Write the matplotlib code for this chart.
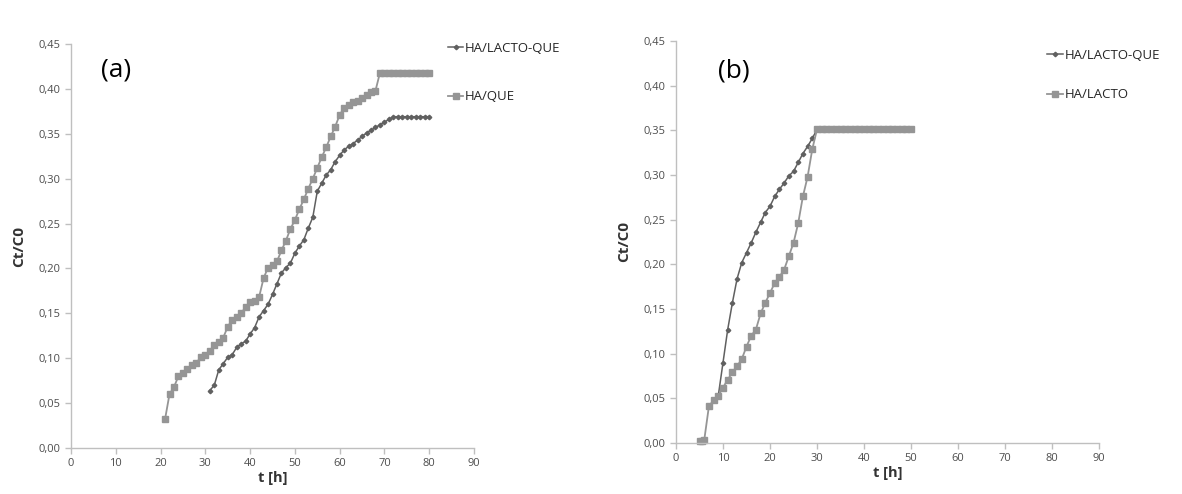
import matplotlib
matplotlib.use("Agg")
import matplotlib.pyplot as plt
from matplotlib.ticker import FuncFormatter, MultipleLocator

plt.rcParams['font.family'] = ['Open Sans', 'DejaVu Sans']

# ---------------- Panel (a) data ----------------
a_lq_t = [31, 32, 33, 34, 35, 36, 37, 38, 39, 40, 41, 42, 43, 44, 45, 46, 47, 48, 49, 50,
          51, 52, 53, 54, 55, 56, 57, 58, 59, 60, 61, 62, 63, 64, 65, 66, 67, 68, 69, 70,
          71, 72, 73, 74, 75, 76, 77, 78, 79, 80]
a_lq_y = [0.064, 0.070, 0.087, 0.094, 0.101, 0.104, 0.112, 0.116, 0.119, 0.127, 0.134, 0.146,
          0.153, 0.160, 0.171, 0.183, 0.195, 0.201, 0.206, 0.217, 0.225, 0.232, 0.245, 0.257,
          0.286, 0.295, 0.304, 0.310, 0.319, 0.326, 0.332, 0.336, 0.339, 0.343, 0.347, 0.351,
          0.354, 0.357, 0.360, 0.363, 0.366, 0.369, 0.369, 0.369, 0.369, 0.369, 0.369, 0.369,
          0.369, 0.369]

a_q_t = [21, 22, 23, 24, 25, 26, 27, 28, 29, 30, 31, 32, 33, 34, 35, 36, 37, 38, 39, 40,
         41, 42, 43, 44, 45, 46, 47, 48, 49, 50, 51, 52, 53, 54, 55, 56, 57, 58, 59, 60,
         61, 62, 63, 64, 65, 66, 67, 68, 69, 70, 71, 72, 73, 74, 75, 76, 77, 78, 79, 80]
a_q_y = [0.032, 0.060, 0.068, 0.080, 0.084, 0.088, 0.092, 0.095, 0.101, 0.104, 0.108, 0.115,
         0.118, 0.123, 0.135, 0.143, 0.146, 0.150, 0.157, 0.163, 0.164, 0.168, 0.189, 0.201,
         0.204, 0.208, 0.220, 0.231, 0.244, 0.254, 0.266, 0.277, 0.289, 0.300, 0.312, 0.324,
         0.335, 0.347, 0.358, 0.371, 0.379, 0.382, 0.385, 0.387, 0.390, 0.393, 0.396, 0.398,
         0.418, 0.418, 0.418, 0.418, 0.418, 0.418, 0.418, 0.418, 0.418, 0.418, 0.418, 0.418]

# ---------------- Panel (b) data ----------------
b_lq_t = [9, 10, 11, 12, 13, 14, 15, 16, 17, 18, 19, 20, 21, 22, 23, 24, 25, 26, 27, 28, 29,
          30, 31, 32, 33, 34, 35, 36, 37, 38, 39, 40, 41, 42, 43, 44, 45, 46, 47, 48, 49, 50]
b_lq_y = [0.053, 0.090, 0.127, 0.157, 0.184, 0.202, 0.213, 0.224, 0.236, 0.247, 0.258, 0.265,
          0.276, 0.284, 0.291, 0.299, 0.304, 0.314, 0.324, 0.332, 0.341,
          0.351, 0.351, 0.351, 0.351, 0.351, 0.351, 0.351, 0.351, 0.351, 0.351, 0.351, 0.351,
          0.351, 0.351, 0.351, 0.351, 0.351, 0.351, 0.351, 0.351, 0.351]

b_l_t = [5, 5.5, 6, 7, 8, 9, 10, 11, 12, 13, 14, 15, 16, 17, 18, 19, 20, 21, 22, 23, 24, 25,
         26, 27, 28, 29, 30, 31, 32, 33, 34, 35, 36, 37, 38, 39, 40, 41, 42, 43, 44, 45, 46,
         47, 48, 49, 50]
b_l_y = [0.002, 0.002, 0.003, 0.041, 0.048, 0.053, 0.062, 0.071, 0.079, 0.086, 0.094, 0.108,
         0.120, 0.127, 0.145, 0.157, 0.168, 0.179, 0.186, 0.194, 0.209, 0.224, 0.246, 0.276,
         0.298, 0.329, 0.351, 0.351, 0.351, 0.351, 0.351, 0.351, 0.351, 0.351, 0.351, 0.351,
         0.351, 0.351, 0.351, 0.351, 0.351, 0.351, 0.351, 0.351, 0.351, 0.351, 0.351]

x_ticks = [0, 10, 20, 30, 40, 50, 60, 70, 80, 90]

DARK = '#606060'
LIGHT = '#959595'
SPINE = '#bfbfbf'
TICKC = '#4d4d4d'

fig = plt.figure(figsize=(11.82, 4.94), dpi=100)
fig.patch.set_facecolor('white')

ax_a = fig.add_axes([71 / 1182, (494 - 448) / 494, (474 - 71) / 1182, (448 - 44) / 494])
ax_b = fig.add_axes([676 / 1182, (494 - 443) / 494, (1099 - 676) / 1182, (443 - 41) / 494])

comma = FuncFormatter(lambda v, p: f"{v:.2f}".replace('.', ','))


def style(ax):
    ax.set_xlim(0, 90)
    ax.set_ylim(0, 0.45)
    ax.set_xticks(x_ticks)
    ax.yaxis.set_major_locator(MultipleLocator(0.05))
    ax.yaxis.set_major_formatter(comma)
    for s in ['top', 'right']:
        ax.spines[s].set_visible(False)
    for s in ['left', 'bottom']:
        ax.spines[s].set_color(SPINE)
        ax.spines[s].set_linewidth(1.0)
    ax.tick_params(axis='both', colors=SPINE, labelcolor=TICKC, labelsize=8,
                   length=4, width=1.0, direction='out')
    ax.set_xlabel('t [h]', fontsize=10.5, fontweight='bold', color='#333333', labelpad=1)
    ax.set_ylabel('Ct/C0', fontsize=11, fontweight='bold', color='#333333', labelpad=9)
    ax.patch.set_alpha(0)


# Panel (a)
ax_a.plot(a_lq_t, a_lq_y, color=DARK, lw=1.1, marker='D', ms=2.3, mfc=DARK, mec=DARK,
          label='HA/LACTO-QUE', clip_on=False)
ax_a.plot(a_q_t, a_q_y, color=LIGHT, lw=1.3, marker='s', ms=4.3, mfc=LIGHT, mec=LIGHT,
          label='HA/QUE', clip_on=False)
style(ax_a)
ax_a.text(0.075, 0.935, '(a)', transform=ax_a.transAxes, fontsize=19, color='black',
          ha='left', va='center')
ax_a.legend(loc='upper left', bbox_to_anchor=(0.905, 1.035), frameon=False, fontsize=9.5,
            labelspacing=2.7, handlelength=1.2, handletextpad=0.1, labelcolor='#262626')

# Panel (b)
ax_b.plot(b_lq_t, b_lq_y, color=DARK, lw=1.1, marker='D', ms=2.3, mfc=DARK, mec=DARK,
          label='HA/LACTO-QUE', clip_on=False)
ax_b.plot(b_l_t, b_l_y, color=LIGHT, lw=1.3, marker='s', ms=4.3, mfc=LIGHT, mec=LIGHT,
          label='HA/LACTO', clip_on=False)
style(ax_b)
ax_b.text(0.1, 0.925, '(b)', transform=ax_b.transAxes, fontsize=19, color='black',
          ha='left', va='center')
ax_b.legend(loc='upper left', bbox_to_anchor=(0.85, 1.01), frameon=False, fontsize=9.5,
            labelspacing=2.0, handlelength=1.2, handletextpad=0.1, labelcolor='#262626')

fig.savefig('out.png', dpi=100, facecolor='white')
